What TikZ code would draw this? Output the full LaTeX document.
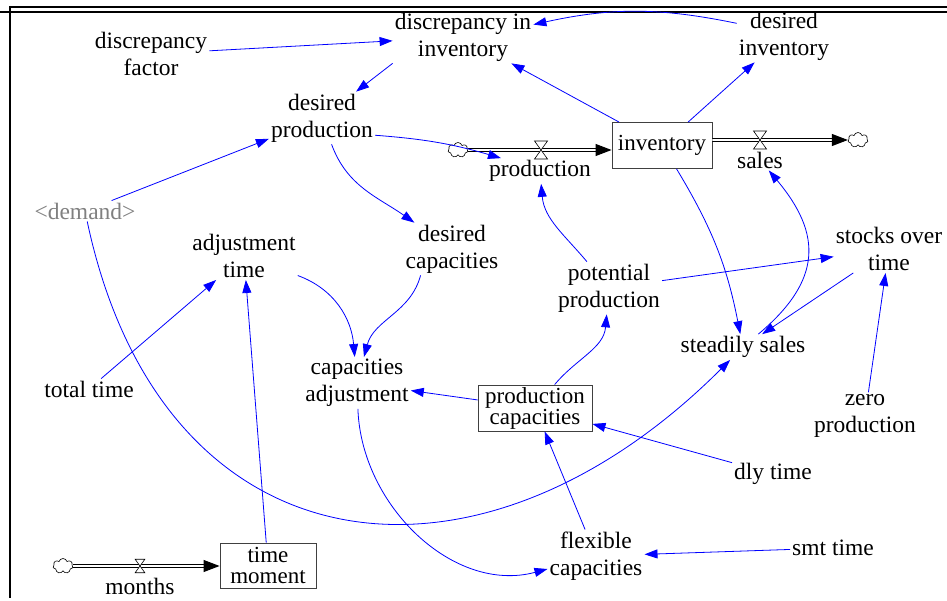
\documentclass[tikz,border=0pt]{standalone}
\usepackage{fontspec}
\setmainfont{Liberation Serif}
\usetikzlibrary{arrows.meta,shapes.symbols}
\definecolor{linkblue}{HTML}{0000FF}
\definecolor{shadowgray}{HTML}{808080}

\begin{document}
\begin{tikzpicture}[x=1pt,y=1pt,
    var/.style={align=center,inner sep=2pt,font=\fontsize{23.5}{27}\selectfont},
    stock/.style={draw=black!75,line width=0.9pt,align=center,inner sep=1pt,font=\fontsize{23}{21}\selectfont},
    link/.style={linkblue,line width=0.8pt,-{Triangle[length=13pt,width=9pt]}},
    pipe/.style={draw=black,double=white,double distance=1.6pt,line width=1pt,-{Triangle[length=16pt,width=12pt,fill=black]}},
    valve/.style={draw=black,fill=white,line width=0.6pt},
    cloudy/.style={cloud,draw,cloud puffs=7,aspect=1.4,minimum width=20pt,minimum height=15pt,inner sep=0pt,line width=0.6pt,fill=white}]
    \useasboundingbox (0,0) rectangle (947,-601);
    \draw[line width=2pt] (9,-7) -- (947,-7);
    \draw[line width=2pt] (0,-12) -- (947,-12);
    \draw[line width=2pt] (10,-6) -- (10,-598);

    \node[var] (dii) at (463,-37) {discrepancy in\\inventory};
    \node[var] (dinv) at (784,-36) {desired\\inventory};
    \node[var] (dfac) at (151,-54) {discrepancy\\factor};
    \node[var] (dprod) at (322,-118) {desired\\production};
    \node[var,text=shadowgray] (demand) at (85,-211) {<demand>};
    \node[stock,minimum width=100pt,minimum height=46pt] (inv) at (662,-145.5) {inventory};
    \node[var] (prod) at (540,-171) {production};
    \node[var] (sales) at (760,-160) {sales};
    \node[var] (atime) at (244,-256) {adjustment\\time};
    \node[var] (dcap) at (452,-249) {desired\\capacities};
    \node[var] (pprod) at (609,-288) {potential\\production};
    \node[var] (sot) at (889,-249) {stocks over\\time};
    \node[var] (ssales) at (743,-347) {steadily sales};
    \node[var] (ttime) at (89,-389) {total time};
    \node[var] (cadj) at (357,-383) {capacities\\adjustment};
    \node[stock,minimum width=114pt,minimum height=46pt] (pcap) at (535,-408) {production\\capacities};
    \node[var] (zprod) at (865,-416) {zero\\production};
    \node[var] (dly) at (773,-474) {dly time};
    \node[var] (flex) at (596,-556) {flexible\\capacities};
    \node[var] (smt) at (833,-548) {smt time};
    \node[stock,minimum width=96pt,minimum height=45pt] (tmom) at (268,-565.5) {time\\moment};
    \node[var] (months) at (140,-586) {months};

    \node[cloudy] (c1) at (458,-150) {};
    \node[cloudy] (c2) at (858,-140) {};
    \node[cloudy] (c3) at (63,-566) {};
    \coordinate (v1) at (541,-150);
    \coordinate (v2) at (760,-140);
    \coordinate (v3) at (140,-566);

    \draw[pipe] (c1) -- (c1 -| inv.west);
    \draw[pipe] (c2 -| inv.east) -- (c2);
    \draw[pipe] (c3) -- (c3 -| tmom.west);
    \foreach \v/\s in {v1/1,v2/1,v3/0.75}
      \draw[valve,shift={(\v)},scale=\s] (-6.5,9) -- (6.5,9) -- (-6.5,-9) -- (6.5,-9) -- cycle;

    \draw[link] (dfac) -- (dii);
    \draw[link] (dinv.165) to[bend right=12] (dii.10);
    \draw[link] (inv) -- (dii);
    \draw[link] (inv) -- (dinv);
    \draw[link] (dii.south west) -- (dprod);
    \draw[link] (demand) -- (dprod);
    \draw[link] (dprod.-18) to[bend left=6] (prod);
    \draw[link] (dprod) to[out=-70,in=145] (dcap);
    \draw[link] (pprod) to[out=130,in=-85] (prod);
    \draw[link] (pprod) -- (sot);
    \draw[link] (inv) to[bend left=10] (ssales);
    \draw[link] (ssales) to[out=40,in=-50,looseness=1.3] (sales);
    \draw[link] (sot) -- (ssales);
    \draw[link] (zprod) -- (sot);
    \draw[link] (demand) to[out=-78,in=-135,looseness=1.4] (ssales);
    \draw[link] (ttime) -- (atime);
    \draw[link] (tmom) -- (atime);
    \draw[link] (atime) to[out=-20,in=95] (cadj);
    \draw[link] (dcap.-140) to[out=-105,in=75] (cadj);
    \draw[link] (pcap) -- (cadj);
    \draw[link] (pcap) to[out=50,in=-95] (pprod);
    \draw[link] (dly) -- (pcap);
    \draw[link] (flex) -- (pcap);
    \draw[link] (cadj) to[out=-88,in=195] (flex);
    \draw[link] (smt) -- (flex);
\end{tikzpicture}
\end{document}
